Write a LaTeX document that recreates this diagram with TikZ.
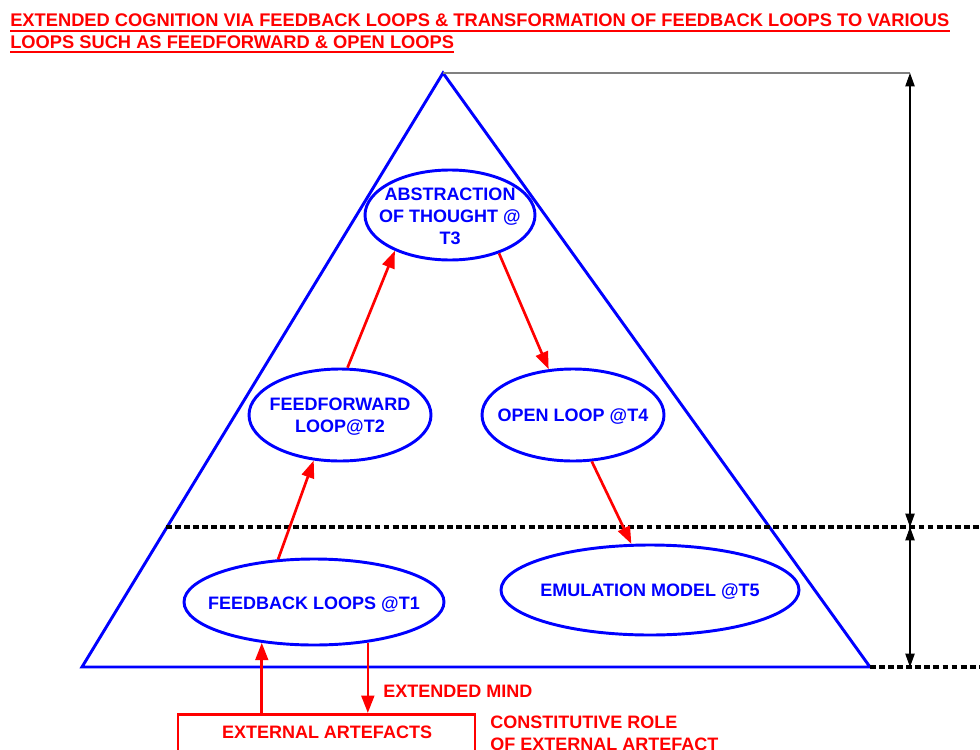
\documentclass[tikz,border=0pt]{standalone}
\usepackage{fontspec}
\setmainfont{Liberation Sans}
\usetikzlibrary{shapes.geometric,arrows.meta,calc}
\begin{document}
\begin{tikzpicture}[x=0.75pt,y=-0.75pt,
  font=\fontsize{13.5}{16.5}\selectfont\bfseries,
  loop/.style={ellipse, draw=blue, line width=2.2pt, inner sep=0pt},
  looptext/.style={text=blue, align=center, inner sep=0pt},
  flow/.style={draw=red, line width=2pt, -{Triangle[length=13pt,width=9.5pt]}},
  dim/.style={draw=black, line width=0.8pt, {Triangle[length=10pt,width=7pt]}-{Triangle[length=10pt,width=7pt]}},
  level/.style={draw=black, line width=2.4pt, dash pattern=on 4.4pt off 2.4pt},
  redtext/.style={text=red, inner sep=0pt, anchor=west},
  titletext/.style={text=red, inner sep=0pt, anchor=base west, font=\fontsize{13.72}{16.5}\selectfont\bfseries}]
\useasboundingbox (0,0) rectangle (980,749);

% heading, underlined
\node[titletext] (t1) at (10,27) {EXTENDED COGNITION VIA FEEDBACK LOOPS \& TRANSFORMATION OF FEEDBACK LOOPS TO VARIOUS};
\node[titletext] (t2) at (10,48.5) {LOOPS SUCH AS FEEDFORWARD \& OPEN LOOPS};
\draw[red, line width=1.5pt] ([yshift=-2.7pt]t1.base west) -- ([yshift=-2.7pt]t1.base east);
\draw[red, line width=1.5pt] ([yshift=-2.7pt]t2.base west) -- ([yshift=-2.7pt]t2.base east);

% pyramid
\coordinate (apex) at (443,73);
\coordinate (bl) at (82,667);
\coordinate (br) at (870,667);
\draw[blue, line width=2.2pt, line join=miter] (apex) -- (br) -- (bl) -- cycle;

% level markers and dimension arrows
\coordinate (dtop) at (910,73);
\coordinate (dmid) at (910,527);
\coordinate (dbot) at (910,667);
\coordinate (lvl) at (166,527);
\coordinate (lvlend) at (980,527);
\coordinate (baseend) at (980,667);
\draw[gray, line width=0.8pt] (apex) -- (dtop);
\draw[level] (lvl) -- (lvlend);
\draw[level] (br) -- (baseend);
\draw[dim] (dmid) -- (dtop);
\draw[dim] (dbot) -- (dmid);

% loops
\node[loop, minimum width=127.5pt, minimum height=67.5pt] (abs) at (450,215) {};
\node[loop, minimum width=136.5pt, minimum height=69pt] (ff) at (340,415) {};
\node[loop, minimum width=136.5pt, minimum height=69pt] (ol) at (573,415) {};
\node[loop, minimum width=223.5pt, minimum height=67.5pt] (em) at (650,590) {};
\node[loop, minimum width=195pt, minimum height=64.5pt] (fb) at (314,602) {};

\node[looptext] (abst) at (450,216.5) {ABSTRACTION\\OF THOUGHT @\\T3};
\node[looptext] (fft) at (340,417) {FEEDFORWARD\\LOOP@T2};
\node[looptext] (olt) at (573,417) {OPEN LOOP @T4};
\node[looptext] (emt) at (650,592) {EMULATION MODEL @T5};
\node[looptext] (fbt) at (314,605) {FEEDBACK LOOPS @T1};

% transitions between loops
\draw[flow] (fb.130) -- (ff.240);
\draw[flow] (ff.81) -- (abs.213);
\draw[flow] (abs.322) -- (ol.118);
\draw[flow] (ol.292) -- (em.112);

% external artefacts
\node[draw=red, line width=2pt, minimum width=222.75pt, minimum height=60pt, anchor=north] (art) at (326.5,713) {};
\node[text=red, inner sep=0pt] (artt) at (327,732) {EXTERNAL ARTEFACTS};
\draw[flow] (art.north -| fb.218) -- (fb.218);
\draw[flow] (fb.323) -- (art.north -| fb.323);

\node[redtext] (mind) at (383,691) {EXTENDED MIND};
\node[redtext, align=left, anchor=north west] (role) at (490,716) {CONSTITUTIVE ROLE\\OF EXTERNAL ARTEFACT};
\end{tikzpicture}
\end{document}
